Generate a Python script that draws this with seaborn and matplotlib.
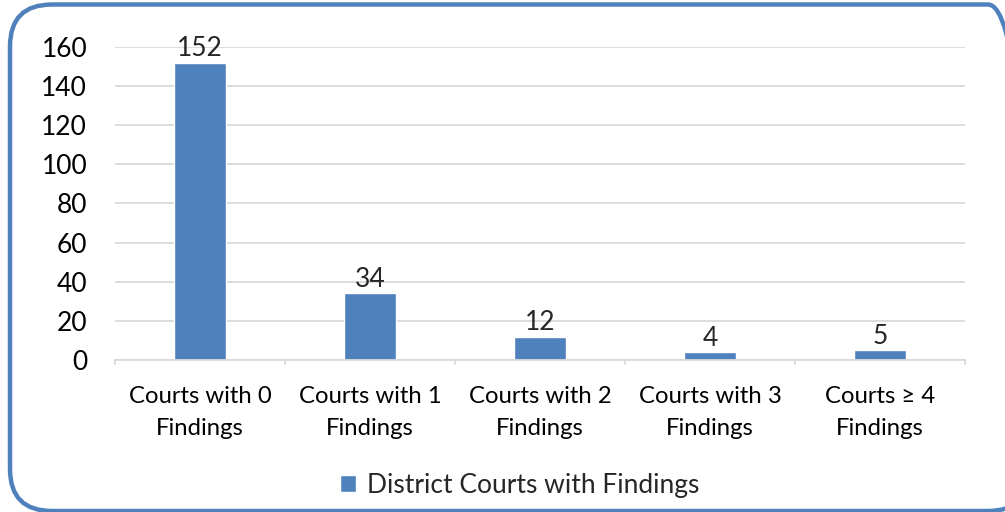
import matplotlib
matplotlib.use("Agg")
import matplotlib.pyplot as plt
from matplotlib.patches import FancyBboxPatch
import pandas as pd
import seaborn as sns

categories = ["Courts with 0\nFindings", "Courts with 1\nFindings", "Courts with 2\nFindings",
              "Courts with 3\nFindings", "Courts \u2265 4\nFindings"]
counts = [152, 34, 12, 4, 5]
y_ticks = [0, 20, 40, 60, 80, 100, 120, 140, 160]
series_name = "District Courts with Findings"

BLUE = "#4F81BD"


def plot_data(df):
    sns.set_theme(style="white")
    plt.rcParams["font.family"] = ["Lato", "DejaVu Sans"]

    fig = plt.figure(figsize=(10.05, 5.12), dpi=100)
    ax = fig.add_axes([0.1144, 0.2969, 0.8458, 0.6113])

    sns.barplot(x="category", y="count", data=df, color=BLUE, width=0.31,
                saturation=1, ax=ax, label=series_name)

    ax.set_ylim(0, 160)
    ax.set_xlim(-0.5, len(categories) - 0.5)
    ax.set_yticks(y_ticks)
    ax.yaxis.grid(True, color="#D9D9D9", linewidth=1.3)
    ax.set_axisbelow(True)
    for side in ["top", "right", "left"]:
        ax.spines[side].set_visible(False)
    ax.spines["bottom"].set_color("#D9D9D9")
    ax.spines["bottom"].set_linewidth(1.3)
    ax.set_xlabel("")
    ax.set_ylabel("")
    ax.tick_params(axis="y", labelsize=19, length=0, pad=20, colors="black")
    ax.tick_params(axis="x", labelsize=17.2, length=0, pad=19, colors="black")
    for lbl in ax.get_xticklabels():
        lbl.set_linespacing(1.65)

    # small tick marks between categories
    for b in range(len(categories) + 1):
        ax.plot([b - 0.5, b - 0.5], [0, -2.3], color="#D9D9D9", lw=1.3, clip_on=False)

    for i, v in enumerate(counts):
        ax.text(i, v + 0.8, str(v), ha="center", va="bottom", fontsize=19)

    ax.legend(loc="center", bbox_to_anchor=(0.476, -0.40), frameon=False,
              fontsize=19, handlelength=0.6, handleheight=0.6, handletextpad=0.4)

    # rounded frame, in inches so the corners stay round; right side runs off the canvas
    border = FancyBboxPatch((0.10, 0.01), 10.2, 5.065, boxstyle="round,pad=0,rounding_size=0.42",
                            transform=fig.dpi_scale_trans, fill=False, edgecolor=BLUE,
                            linewidth=3.2)
    fig.patches.append(border)

    fig.savefig("out.png", dpi=100)


def main():
    df = pd.DataFrame({"category": categories, "count": counts})
    plot_data(df)


if __name__ == "__main__":
    main()
